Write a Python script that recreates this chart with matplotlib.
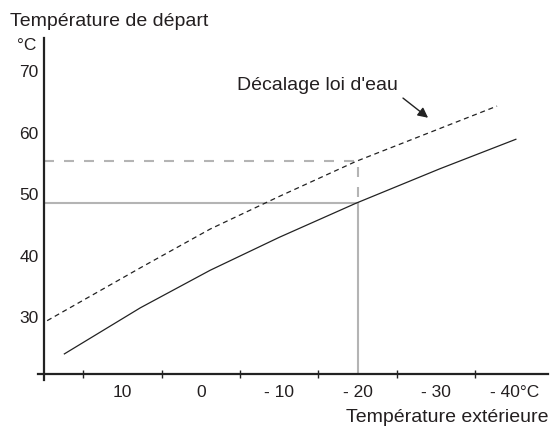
import numpy as np
import matplotlib
matplotlib.use("Agg")
import matplotlib.pyplot as plt

plt.rcParams['font.family'] = ['Liberation Sans', 'DejaVu Sans']

# heating curve
outdoor_base = [17.4, 7.7, -1.2, -10.0, -19.8, -30.5, -40.2]
flow_base = [24.0, 31.5, 37.6, 42.95, 48.5, 54.1, 58.9]

# shifted curve (décalage)
outdoor_shift = [19.6, 7.7, -1.2, -10.0, -19.8, -37.8]
flow_shift = [29.4, 38.0, 44.3, 49.6, 55.3, 64.3]

# read-off example at -20 °C
sel_outdoor = -20
sel_flow_base = 48.5
sel_flow_shift = 55.4

xtick_vals = [10, 0, -10, -20, -30, -40]
xtick_labels = ['10', '0', '- 10', '- 20', '- 30', '- 40°C']
xminor_vals = [15, 5, -5, -15, -25, -35]
ytick_vals = [30, 40, 50, 60, 70]

txt_col = '#231f20'
grey = '#b4b4b4'

fig = plt.figure(figsize=(5.51, 4.29), dpi=100)
ax = fig.add_axes([44 / 551, 1 - 374 / 429, 504 / 551, 336 / 429])
ax.set_xlim(20, -44.3)
ax.set_ylim(20.73, 75.37)

# grey read-off lines
ax.plot([20, sel_outdoor], [sel_flow_base, sel_flow_base], color=grey, lw=1.5)
ax.plot([sel_outdoor, sel_outdoor], [20.73, sel_flow_base], color=grey, lw=1.5)
ax.plot([20, sel_outdoor, sel_outdoor], [sel_flow_shift, sel_flow_shift, sel_flow_base],
        color=grey, lw=1.5, linestyle=(0, (4.8, 4.8)))

# curves
ax.plot(outdoor_base, flow_base, color='#222222', lw=0.9)
ax.plot(outdoor_shift, flow_shift, color='#222222', lw=0.9, linestyle=(0, (4.0, 3.0)))

ax.text(-4.6, 67.7, "Décalage loi d'eau", fontsize=14, color=txt_col, va='center', ha='left')
ax.annotate('', xy=(-29.0, 62.4), xytext=(-25.8, 65.6),
            arrowprops=dict(arrowstyle='-|>', color='#222222', lw=1.0, mutation_scale=15,
                            shrinkA=0, shrinkB=0))

# axes
for s in ['top', 'right']:
    ax.spines[s].set_visible(False)
for s in ['left', 'bottom']:
    ax.spines[s].set_linewidth(1.6)
    ax.spines[s].set_color('#222222')
ax.spines['left'].set_bounds(19.8, 75.37)
ax.spines['bottom'].set_bounds(20.8, -44.3)

ax.set_xticks(xtick_vals, xtick_labels)
ax.set_xticks(xminor_vals, minor=True)
ax.tick_params(axis='x', which='major', length=0, pad=8, labelsize=12.5, labelcolor=txt_col)
ax.tick_params(axis='x', which='minor', direction='inout', length=6, width=1, color='#222222')
ax.set_yticks(ytick_vals)
ax.tick_params(axis='y', length=0, pad=4, labelsize=12.5, labelcolor=txt_col)

fig.text(10 / 551, 1 - 22 / 429, 'Température de départ', fontsize=14, color=txt_col,
         ha='left', va='center')
fig.text(17 / 551, 1 - 45 / 429, '°C', fontsize=12.5, color=txt_col, ha='left', va='center')
fig.text(548 / 551, 1 - 418 / 429, 'Température extérieure', fontsize=14, color=txt_col,
         ha='right', va='center')

fig.savefig('out.png', dpi=100)
